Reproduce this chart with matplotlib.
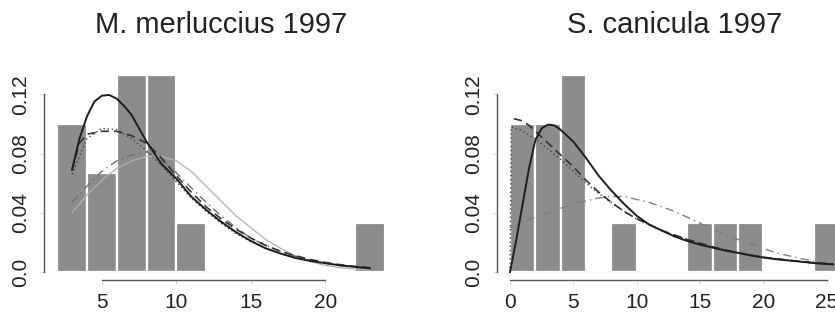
import matplotlib
matplotlib.use("Agg")
import matplotlib.pyplot as plt

plt.rcParams['font.family'] = ['Liberation Sans', 'DejaVu Sans']

# ---------------- data ----------------
titles = ["M. merluccius 1997", "S. canicula 1997"]

# histogram (density) bins, width 2
left_bin_edges = [2, 4, 6, 8, 10, 12, 14, 16, 18, 20, 22]
left_density = [0.1, 0.0667, 0.1333, 0.1333, 0.0333, 0, 0, 0, 0, 0, 0.0333]
right_bin_edges = [0, 2, 4, 6, 8, 10, 12, 14, 16, 18, 20, 22, 24]
right_density = [0.1, 0.1, 0.1333, 0, 0.0333, 0, 0, 0.0333, 0.0333, 0.0333, 0, 0, 0.0333]
bin_width = 2

left_xticks = [5, 10, 15, 20]
right_xticks = [0, 5, 10, 15, 20, 25]
yticks = [0.0, 0.04, 0.08, 0.12]
ytick_labels = ["0.0", "0.04", "0.08", "0.12"]

# fitted density curves, left panel
l_solid_x = [3, 3.5, 4, 4.5, 5, 5.5, 6, 6.5, 7, 7.5, 8, 9, 10, 11, 12, 13, 14, 15, 16, 17, 18, 19, 20, 21, 22, 23]
l_solid_y = [0.069, 0.09, 0.105, 0.115, 0.119, 0.1195, 0.117, 0.112, 0.106, 0.097, 0.088, 0.073, 0.063, 0.051,
             0.042, 0.034, 0.027, 0.021, 0.016, 0.0125, 0.0095, 0.0075, 0.006, 0.0045, 0.0035, 0.0025]
l_dash_x = [3, 3.5, 4, 5, 6, 7, 8, 9, 10, 11, 12, 13, 14, 15, 16, 17, 18, 19, 20, 21, 22, 23]
l_dash_y = [0.069, 0.087, 0.093, 0.095, 0.095, 0.092, 0.087, 0.077, 0.065, 0.054, 0.044, 0.036, 0.029, 0.023,
            0.018, 0.014, 0.011, 0.0085, 0.0065, 0.005, 0.0038, 0.003]
l_dot_x = [3, 4, 5, 6, 7, 8, 9, 10, 11, 12, 13, 14, 15, 16, 17, 18, 19, 20, 21, 22, 23]
l_dot_y = [0.066, 0.09, 0.097, 0.096, 0.09, 0.082, 0.072, 0.061, 0.05, 0.041, 0.033, 0.026, 0.0205, 0.016,
           0.0125, 0.0098, 0.0076, 0.006, 0.0046, 0.0036, 0.0028]
l_dashdot_x = [3, 4, 5, 6, 7, 8, 9, 10, 11, 12, 13, 14, 15, 16, 17, 18, 19, 20, 21, 22, 23]
l_dashdot_y = [0.047, 0.058, 0.068, 0.075, 0.079, 0.081, 0.076, 0.067, 0.057, 0.047, 0.038, 0.030, 0.023,
               0.018, 0.014, 0.0105, 0.008, 0.006, 0.0045, 0.0035, 0.0025]
l_thin_x = [3, 4, 5, 6, 7, 8, 9, 10, 11, 12, 13, 14, 15, 16, 17, 18, 19, 20, 21, 22, 23]
l_thin_y = [0.04, 0.052, 0.062, 0.07, 0.075, 0.078, 0.078, 0.075, 0.068, 0.058, 0.048, 0.038, 0.030, 0.022,
            0.016, 0.011, 0.007, 0.0045, 0.003, 0.002, 0.0015]

# fitted density curves, right panel
r_solid_x = [0, 0.5, 1, 1.5, 2, 2.5, 3, 3.5, 4, 5, 6, 7, 8, 9, 10, 11, 12, 13, 14, 15, 16, 17, 18, 19, 20,
             21, 22, 23, 24, 25.5]
r_solid_y = [0, 0.022, 0.046, 0.07, 0.089, 0.097, 0.0995, 0.099, 0.096, 0.088, 0.077, 0.065, 0.055, 0.046,
             0.038, 0.032, 0.028, 0.024, 0.021, 0.0185, 0.0165, 0.0145, 0.013, 0.0112, 0.0098, 0.0087,
             0.0078, 0.007, 0.0061, 0.0052]
r_dash_x = [0.3, 1, 1.5, 2, 3, 4, 5, 6, 7, 8, 9, 10, 12, 14, 16, 18, 20, 22, 24, 25.5]
r_dash_y = [0.1035, 0.102, 0.099, 0.095, 0.087, 0.079, 0.071, 0.062, 0.054, 0.047, 0.041, 0.036, 0.028,
            0.022, 0.017, 0.013, 0.010, 0.008, 0.0062, 0.0053]
r_dot_x = [0, 0.1, 0.5, 1, 2, 3, 4, 5, 6, 7, 8, 9, 10, 12, 14, 16, 18, 20, 22, 24, 25.5]
r_dot_y = [0, 0.098, 0.097, 0.095, 0.09, 0.083, 0.076, 0.068, 0.06, 0.053, 0.047, 0.041, 0.036, 0.028,
           0.022, 0.017, 0.013, 0.0102, 0.008, 0.0063, 0.0054]
r_dashdot_x = [0, 1, 2, 3, 4, 5, 6, 7, 8, 9, 10, 11, 12, 13, 14, 15, 16, 17, 18, 19, 20, 21, 22, 23, 24, 25.5]
r_dashdot_y = [0.03, 0.034, 0.037, 0.040, 0.043, 0.046, 0.048, 0.050, 0.051, 0.051, 0.049, 0.047, 0.044,
               0.041, 0.037, 0.033, 0.029, 0.025, 0.022, 0.019, 0.016, 0.013, 0.011, 0.009, 0.0075, 0.0057]

# ---------------- drawing ----------------
fig = plt.figure(figsize=(8.35, 3.2), dpi=100)
axL = fig.add_axes([0.0527, 0.125, 0.424, 0.667])
axR = fig.add_axes([0.595, 0.125, 0.426, 0.667])

bar_color = "#8c8c8c"
axis_color = "#555555"


def style(ax, edges, xticks, title):
    xmin, xmax = edges[0], edges[-1] + bin_width
    ext = 0.04 * (xmax - xmin)
    ax.set_xlim(xmin - ext, xmax + ext)
    ymax = 0.13333
    ax.set_ylim(-0.04 * ymax, ymax * 1.04)
    for s in ("top", "right"):
        ax.spines[s].set_visible(False)
    for s in ("left", "bottom"):
        ax.spines[s].set_color(axis_color)
        ax.spines[s].set_linewidth(1.0)
    ax.spines["left"].set_bounds(yticks[0], yticks[-1])
    ax.spines["bottom"].set_bounds(xticks[0], xticks[-1])
    ax.set_xticks(xticks)
    ax.set_xticklabels([str(t) for t in xticks], fontsize=15, color="#222222")
    ax.set_yticks(yticks)
    ax.set_yticklabels(ytick_labels, fontsize=15, color="#222222", rotation=90, va="center")
    ax.tick_params(axis="x", length=3, width=0.6, color="#cccccc", pad=6)
    ax.tick_params(axis="y", length=3, width=0.6, color="#cccccc", pad=7)
    ax.set_title(title, fontsize=21, pad=24, color="#222222")
    ax.patch.set_alpha(0)


for ax, edges, dens in ((axL, left_bin_edges, left_density), (axR, right_bin_edges, right_density)):
    ax.bar(edges, dens, width=bin_width, align="edge", color=bar_color, edgecolor="white",
           linewidth=1.6, zorder=1)

# left curves
axL.plot(l_thin_x, l_thin_y, color="#b0b0b0", lw=0.9, zorder=2)
axL.plot(l_dashdot_x, l_dashdot_y, color="#707070", lw=1.0, ls=(0, (6, 3, 1, 3)), zorder=3)
axL.plot(l_dot_x, l_dot_y, color="#444444", lw=1.0, ls=(0, (1, 2)), zorder=3)
axL.plot(l_dash_x, l_dash_y, color="#333333", lw=1.2, ls=(0, (5, 3)), zorder=3)
axL.plot(l_solid_x, l_solid_y, color="#1e1e1e", lw=1.4, zorder=4)

# right curves
axR.plot(r_dashdot_x, r_dashdot_y, color="#808080", lw=1.0, ls=(0, (6, 3, 1, 3)), zorder=3)
axR.plot(r_dot_x, r_dot_y, color="#444444", lw=1.0, ls=(0, (1, 2)), zorder=3)
axR.plot(r_dash_x, r_dash_y, color="#333333", lw=1.2, ls=(0, (5, 3)), zorder=3)
axR.plot(r_solid_x, r_solid_y, color="#1e1e1e", lw=1.4, zorder=4)

style(axL, left_bin_edges, left_xticks, titles[0])
style(axR, right_bin_edges, right_xticks, titles[1])

fig.savefig("out.png", dpi=100)
